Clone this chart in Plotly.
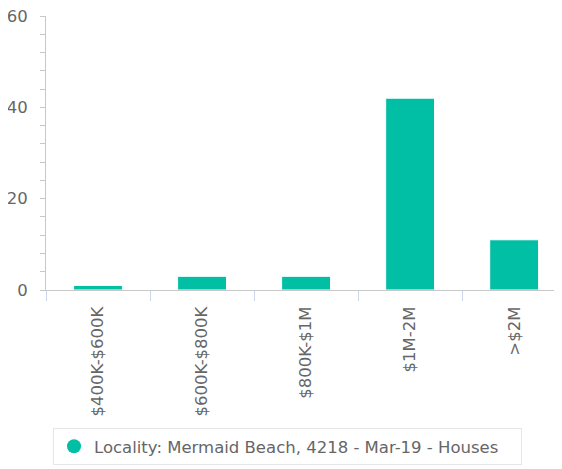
import plotly.graph_objects as go

categories = ["$400K-$600K", "$600K-$800K", "$800K-$1M", "$1M-2M", ">$2M"]
values = [1, 3, 3, 42, 11]
series_name = "Locality: Mermaid Beach, 4218 - Mar-19 - Houses"
y_ticks = [0, 20, 40, 60]

color = "#00bfa5"
font_family = "DejaVu Sans, Verdana, sans-serif"

# page body has an 8px margin, so the figure is drawn 8px smaller and offset
W, H = 554, 461

fig = go.Figure()
fig.add_trace(go.Bar(
    x=categories, y=values, marker=dict(color=color, line=dict(width=1, color="white")),
    showlegend=False, width=0.47,
))
fig.add_trace(go.Scatter(
    x=[None], y=[None], mode="markers", name=series_name,
    marker=dict(color=color, size=14, symbol="circle"),
))

fig.update_layout(
    width=W, height=H,
    margin=dict(l=38, r=0, t=8, b=179, autoexpand=False),
    paper_bgcolor="white", plot_bgcolor="white",
    font=dict(family=font_family, size=16.5, color="#666666"),
    xaxis=dict(
        type="category", range=[-0.5, 4.46], automargin=False,
        showline=True, linecolor="#c8c8c8", linewidth=1,
        ticks="outside", tickson="boundaries", ticklen=10, tickcolor="#ccd6eb",
        tickangle=-90, tickfont=dict(size=16.5, color="#666666"),
        showgrid=False, ticklabelstandoff=9,
    ),
    yaxis=dict(
        range=[0, 60], tickvals=y_ticks, automargin=False,
        showline=True, linecolor="#c8c8c8", linewidth=1,
        ticks="outside", ticklen=5, tickcolor="#c8c8c8",
        minor=dict(dtick=4, ticks="outside", ticklen=5, tickcolor="#c8c8c8", showgrid=False),
        showgrid=False, zeroline=False, ticklabeloverflow="allow",
        tickfont=dict(size=16.5, color="#666666"), ticklabelstandoff=9,
    ),
    legend=dict(
        orientation="h", xref="container", yref="container",
        x=45/W, xanchor="left", y=1 - 420/H, yanchor="top",
        bordercolor="#e6e6e6", borderwidth=1, bgcolor="white",
        font=dict(size=16.5, color="#666666"),
        entrywidth=422,
    ),
)

fig.write_html("out.html")
